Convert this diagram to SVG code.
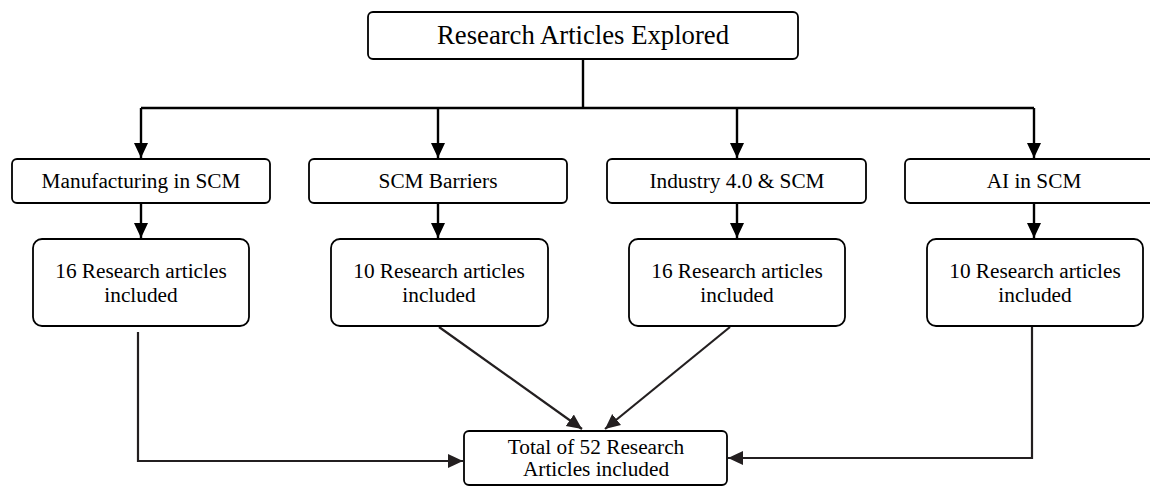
<svg xmlns="http://www.w3.org/2000/svg" width="1150" height="487" viewBox="0 0 1150 487">
<style>
.box{fill:#fff;stroke:#000;stroke-width:1.8}
.t{font-family:"Liberation Serif","Times New Roman",serif;fill:#000;text-anchor:middle}
.t1{font-size:26.7px}
.t2{font-size:21.3px}
.c{fill:none;stroke:#000;stroke-width:2.4}
.c2{fill:none;stroke:#231f20;stroke-width:2.2}
</style>
<defs>
<marker id="ah" markerUnits="userSpaceOnUse" markerWidth="16" markerHeight="16" refX="15" refY="7" orient="auto" viewBox="0 0 16 14">
<path d="M0,0 L15,7 L0,14 z" fill="#000"/>
</marker>
<marker id="ah2" markerUnits="userSpaceOnUse" markerWidth="16" markerHeight="16" refX="15" refY="7" orient="auto" viewBox="0 0 16 14">
<path d="M0,0 L15,7 L0,14 z" fill="#231f20"/>
</marker>
</defs>
<g id="connectors">
<path class="c" d="M583,59 V108"/>
<path class="c" d="M141,108 H1034"/>
<path class="c" d="M141,108 V158" marker-end="url(#ah)"/>
<path class="c" d="M438,108 V158" marker-end="url(#ah)"/>
<path class="c" d="M737,108 V158" marker-end="url(#ah)"/>
<path class="c" d="M1034,108 V158" marker-end="url(#ah)"/>
<path class="c" d="M141,203 V238" marker-end="url(#ah)"/>
<path class="c" d="M438,203 V238" marker-end="url(#ah)"/>
<path class="c" d="M737,203 V238" marker-end="url(#ah)"/>
<path class="c" d="M1034,203 V238" marker-end="url(#ah)"/>
<path class="c2" d="M138,332 V461 H463" marker-end="url(#ah2)"/>
<path class="c2" d="M1032,327 V458 H728" marker-end="url(#ah2)"/>
<path class="c2" d="M439,327 L582,429" marker-end="url(#ah2)"/>
<path class="c2" d="M730,327 L605,429" marker-end="url(#ah2)"/>
</g>
<g id="top">
<rect class="box" x="368" y="12" width="430" height="47" rx="5"/>
<text class="t t1" x="583" y="44">Research Articles Explored</text>
</g>
<g id="cat1">
<rect class="box" x="12" y="159" width="258" height="44" rx="5"/>
<text class="t t2" x="141" y="188">Manufacturing in SCM</text>
</g>
<g id="cat2">
<rect class="box" x="309" y="159" width="258" height="44" rx="5"/>
<text class="t t2" x="438" y="188">SCM Barriers</text>
</g>
<g id="cat3">
<rect class="box" x="607" y="159" width="259" height="44" rx="5"/>
<text class="t t2" x="737" y="188">Industry 4.0 &amp; SCM</text>
</g>
<g id="cat4">
<rect class="box" x="905" y="159" width="260" height="44" rx="5"/>
<text class="t t2" x="1034" y="188">AI in SCM</text>
</g>
<g id="res1">
<rect class="box" x="33" y="239" width="216" height="87" rx="9"/>
<text class="t t2" x="141" y="278">16 Research articles</text>
<text class="t t2" x="141" y="302">included</text>
</g>
<g id="res2">
<rect class="box" x="331" y="239" width="217" height="87" rx="9"/>
<text class="t t2" x="439" y="278">10 Research articles</text>
<text class="t t2" x="439" y="302">included</text>
</g>
<g id="res3">
<rect class="box" x="629" y="239" width="216" height="87" rx="9"/>
<text class="t t2" x="737" y="278">16 Research articles</text>
<text class="t t2" x="737" y="302">included</text>
</g>
<g id="res4">
<rect class="box" x="927" y="239" width="216" height="87" rx="9"/>
<text class="t t2" x="1035" y="278">10 Research articles</text>
<text class="t t2" x="1035" y="302">included</text>
</g>
<g id="total">
<rect class="box" x="464" y="431" width="263" height="54" rx="5"/>
<text class="t t2" x="596" y="454">Total of 52 Research</text>
<text class="t t2" x="596" y="476">Articles included</text>
</g>
</svg>
